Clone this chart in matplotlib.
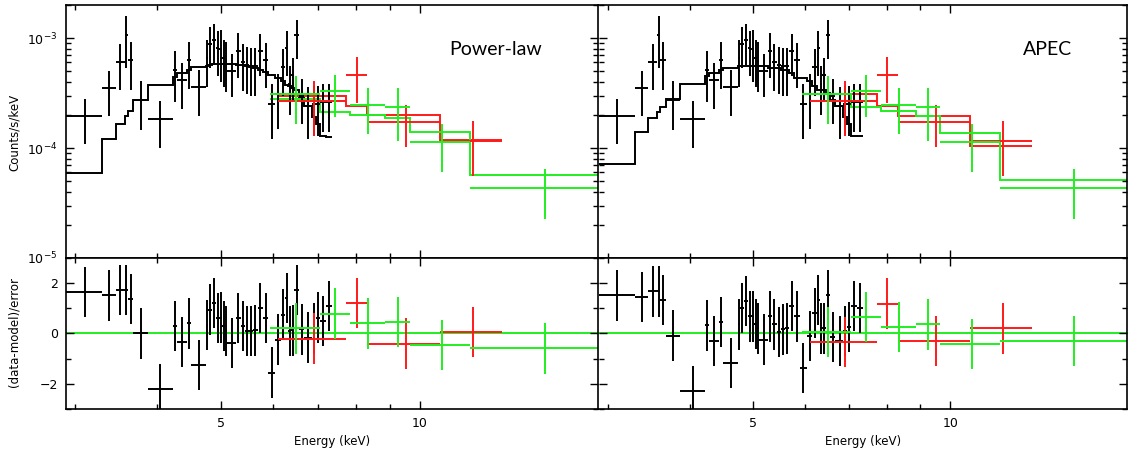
import numpy as np
import matplotlib.pyplot as plt
from matplotlib.ticker import FixedLocator, FormatStrFormatter, NullFormatter, MultipleLocator

# energy grid of the black spectrum (bin edges, keV)
blk_edges = [2.91, 3.30, 3.46, 3.57, 3.61, 3.68, 3.87, 4.22, 4.29, 4.44, 4.50, 4.74, 4.78,
             4.85, 4.91, 4.97, 5.02, 5.07, 5.11, 5.27, 5.35, 5.43, 5.51, 5.59, 5.68, 5.78,
             5.89, 6.04, 6.16, 6.25, 6.32, 6.38, 6.45, 6.56, 6.68, 6.87, 6.95, 7.06, 7.21, 7.36]
blk_rate = [1.95e-4, 3.49e-4, 6.1e-4, 1.06e-3, 6.3e-4, 2.76e-4, 1.85e-4, 5.15e-4, 4.12e-4,
            6.34e-4, 3.57e-4, 6.6e-4, 8.9e-4, 9.6e-4, 8.1e-4, 7.9e-4, 6.56e-4, 6.2e-4, 5.0e-4,
            7.7e-4, 6.1e-4, 5.7e-4, 5.6e-4, 5.6e-4, 7.7e-4, 6.3e-4, 2.5e-4, 3.1e-4, 5.5e-4,
            8.1e-4, 3.8e-4, 4.6e-4, 1.06e-3, 2.96e-4, 2.4e-4, 2.5e-4, 2.49e-4, 2.6e-4, 2.6e-4]
blk_err = [0.87e-4, 1.55e-4, 2.7e-4, 5.2e-4, 2.9e-4, 1.3e-4, 0.85e-4, 2.5e-4, 1.85e-4,
           2.9e-4, 1.6e-4, 3.0e-4, 3.6e-4, 3.9e-4, 3.6e-4, 3.9e-4, 3.0e-4, 3.0e-4, 2.1e-4,
           3.4e-4, 2.8e-4, 2.6e-4, 2.6e-4, 2.6e-4, 3.2e-4, 2.8e-4, 1.3e-4, 1.6e-4, 2.5e-4,
           3.6e-4, 1.8e-4, 2.0e-4, 4.1e-4, 1.3e-4, 1.2e-4, 1.2e-4, 1.2e-4, 1.2e-4, 1.2e-4]
blk_mod_pl = [5.96e-5, 1.22e-4, 1.65e-4, 1.95e-4, 2.17e-4, 2.72e-4, 3.72e-4, 4.43e-4, 4.81e-4,
              5.15e-4, 5.44e-4, 5.6e-4, 5.71e-4, 5.77e-4, 5.83e-4, 5.83e-4, 5.83e-4, 5.83e-4,
              5.77e-4, 5.71e-4, 5.65e-4, 5.54e-4, 5.42e-4, 5.33e-4, 5.15e-4, 4.94e-4, 4.64e-4,
              4.34e-4, 4.04e-4, 3.77e-4, 3.66e-4, 3.52e-4, 3.40e-4, 2.88e-4, 2.40e-4, 1.90e-4,
              1.65e-4, 1.29e-4, 1.26e-4]
blk_mod_apec = [7.18e-5, 1.40e-4, 1.86e-4, 2.12e-4, 2.38e-4, 2.82e-4, 3.83e-4, 4.48e-4, 4.81e-4,
                5.15e-4, 5.40e-4, 5.6e-4, 5.6e-4, 5.6e-4, 5.6e-4, 5.6e-4, 5.6e-4, 5.6e-4,
                5.6e-4, 5.40e-4, 5.40e-4, 5.40e-4, 5.15e-4, 5.15e-4, 4.81e-4, 4.34e-4, 4.34e-4,
                4.04e-4, 3.64e-4, 3.40e-4, 3.40e-4, 3.40e-4, 3.18e-4, 2.76e-4, 2.40e-4, 1.90e-4,
                1.65e-4, 1.29e-4, 1.28e-4]
blk_res_pl = [1.65, 1.51, 1.73, 1.73, 1.37, 0.0, -2.2, 0.29, -0.34, 0.40, -1.25, 0.33, 0.95,
              1.21, 0.62, 0.63, 0.29, 0.1, -0.37, 0.62, 0.29, 0.09, 0.09, 0.12, 1.01, 0.62,
              -1.55, -0.24, 0.75, 1.41, 0.09, 0.12, 1.74, 0.16, -0.16, 0.2, 0.63, 0.5, 1.1]
blk_res_apec = [1.51, 1.44, 1.67, 1.67, 1.34, -0.08, -2.28, 0.32, -0.3, 0.45, -1.16, 0.36, 1.01,
                1.28, 0.68, 0.68, 0.38, 0.2, -0.24, 0.68, 0.36, 0.06, 0.16, 0.2, 1.08, 0.68,
                -1.38, -0.1, 0.82, 1.34, 0.2, 0.2, 1.54, -0.15, -0.3, 0.1, 0.25, 1.08, 1.0]

# red spectrum
red_edges = [6.10, 7.72, 8.31, 10.73, 13.30]
red_rate = [2.67e-4, 4.64e-4, 1.73e-4, 1.16e-4]
red_err = [1.37e-4, 2.06e-4, 0.71e-4, 0.6e-4]
red_mod_pl = [2.96e-4, 2.40e-4, 1.98e-4, 1.18e-4]
red_mod_apec = [3.11e-4, 2.40e-4, 1.95e-4, 1.05e-4]
red_res_pl = [-0.2, 1.21, -0.4, 0.07]
red_res_apec = [-0.33, 1.19, -0.3, 0.2]

# green spectrum
grn_edges = [5.93, 7.06, 7.83, 8.85, 9.66, 11.9, 19.0]
grn_rate = [3.11e-4, 3.28e-4, 2.44e-4, 2.36e-4, 1.125e-4, 4.36e-5]
grn_err = [1.44e-4, 1.36e-4, 1.11e-4, 1.19e-4, 0.52e-4, 2.1e-5]
grn_mod_pl = [2.82e-4, 2.14e-4, 2.0e-4, 1.89e-4, 1.385e-4, 5.63e-5]
grn_mod_apec = [3.13e-4, 2.36e-4, 2.17e-4, 1.95e-4, 1.356e-4, 5.07e-5]
grn_res_pl = [0.2, 0.79, 0.4, 0.45, -0.46, -0.59]
grn_res_apec = [0.05, 0.66, 0.26, 0.36, -0.41, -0.3]

GREEN = '#22ee22'
RED = '#ff1a1a'
LW = 1.4

fig = plt.figure(figsize=(11.28, 4.5), dpi=100)

def draw_set(ax_top, ax_bot, edges, rate, err, model, resid, color):
    edges = np.array(edges)
    lo, hi = edges[:-1], edges[1:]
    cen = (lo + hi) / 2
    xerr = [cen - lo, hi - cen]
    ax_top.errorbar(cen, rate, xerr=xerr, yerr=err, fmt='none', ecolor=color, elinewidth=LW)
    ax_top.stairs(model, edges, baseline=None, color=color, lw=LW)
    ax_bot.errorbar(cen, resid, xerr=xerr, yerr=1.0, fmt='none', ecolor=color, elinewidth=LW)

def style(ax, top, show_y):
    ax.set_xscale('log')
    ax.set_xlim(2.91, 18.6)
    ax.xaxis.set_major_locator(FixedLocator([5, 10]))
    ax.xaxis.set_minor_locator(FixedLocator([3, 4, 6, 7, 8, 9]))
    ax.xaxis.set_major_formatter(FormatStrFormatter('%g'))
    ax.xaxis.set_minor_formatter(NullFormatter())
    ax.tick_params(which='both', direction='in', top=True, right=True, labelsize=9,
                   width=1.0, pad=6)
    ax.tick_params(which='major', length=6)
    ax.tick_params(which='minor', length=3.5)
    ax.tick_params(labelleft=show_y)
    if top:
        ax.set_yscale('log')
        ax.set_ylim(1e-5, 2e-3)
        ax.yaxis.set_minor_formatter(NullFormatter())
        ax.tick_params(labelbottom=False)
    else:
        ax.set_ylim(-3, 3)
        ax.yaxis.set_major_locator(MultipleLocator(2))
        ax.yaxis.set_minor_locator(MultipleLocator(1))
        ax.set_xlabel('Energy (keV)', fontsize=8.5, labelpad=3)
    for s in ax.spines.values():
        s.set_linewidth(1.2)
    if not show_y:
        ax.spines['left'].set_visible(False)

panels = [
    (0.0585, 0.4716, blk_mod_pl, blk_res_pl, red_mod_pl, red_res_pl, grn_mod_pl, grn_res_pl, True, 'Power-law', 0.439),
    (0.531, 0.4681, blk_mod_apec, blk_res_apec, red_mod_apec, red_res_apec, grn_mod_apec, grn_res_apec, False, 'APEC', 0.929),
]

for (x0, w, bm, br, rm, rr, gm, gr, show_y, name, tx) in panels:
    ax_t = fig.add_axes([x0, 0.4267, w, 0.5622])
    ax_b = fig.add_axes([x0, 0.0911, w, 0.3356])
    ax_b.axhline(0, color=GREEN, lw=LW, zorder=1)
    draw_set(ax_t, ax_b, blk_edges, blk_rate, blk_err, bm, br, 'black')
    draw_set(ax_t, ax_b, red_edges, red_rate, red_err, rm, rr, RED)
    draw_set(ax_t, ax_b, grn_edges, grn_rate, grn_err, gm, gr, GREEN)
    style(ax_t, True, show_y)
    style(ax_b, False, show_y)
    fig.text(tx, 0.891, name, fontsize=14, family='Lato', ha='center', va='center')

fig.text(0.0124, 1 - 132 / 450, 'Counts/s/keV', rotation=90, fontsize=8.5, ha='center', va='center')
fig.text(0.0124, 1 - 332 / 450, '(data-model)/error', rotation=90, fontsize=8.5, ha='center', va='center')

fig.savefig('out.png', dpi=100)
